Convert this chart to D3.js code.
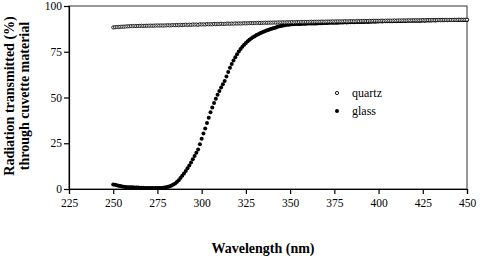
<!DOCTYPE html>
<html>
<head>
<meta charset="utf-8">
<script src="https://cdn.jsdelivr.net/npm/d3@7"></script>
<style>
  body { margin: 0; background: #fff; }
  text { font-family: "Liberation Serif", "Times New Roman", serif; }
</style>
</head>
<body>
<svg id="chart" width="481" height="259"></svg>
<script>
  /* data: one reading per nm, 250 to 450 nm */
  let wavelengths = d3.range(250, 451)

  let quartz = [
    88.3, 88.4, 88.5, 88.5, 88.6, 88.7, 88.7, 88.8, 88.9, 88.9,
    89.0, 89.0, 89.1, 89.0, 89.1, 89.1, 89.2, 89.1, 89.2, 89.2,
    89.2, 89.3, 89.2, 89.3, 89.3, 89.4, 89.3, 89.4, 89.3, 89.4,
    89.4, 89.5, 89.4, 89.5, 89.6, 89.5, 89.6, 89.5, 89.7, 89.6,
    89.7, 89.8, 89.6, 89.8, 89.7, 89.9, 89.8, 89.9, 89.7, 90.0,
    89.9, 90.0, 89.9, 90.1, 90.0, 90.1, 90.0, 90.2, 90.1, 90.2,
    90.1, 90.3, 90.2, 90.2, 90.3, 90.4, 90.3, 90.4, 90.3, 90.5,
    90.4, 90.5, 90.4, 90.5, 90.6, 90.5, 90.6, 90.6, 90.7, 90.6,
    90.7, 90.7, 90.8, 90.7, 90.8, 90.8, 90.9, 90.8, 90.9, 90.9,
    90.9, 91.0, 90.9, 91.0, 91.0, 91.0, 91.1, 91.0, 91.1, 91.1,
    91.1, 91.2, 91.1, 91.2, 91.2, 91.2, 91.3, 91.2, 91.3, 91.3,
    91.3, 91.3, 91.4, 91.3, 91.4, 91.4, 91.4, 91.4, 91.5, 91.4,
    91.5, 91.5, 91.5, 91.5, 91.6, 91.5, 91.6, 91.6, 91.6, 91.6,
    91.6, 91.7, 91.6, 91.7, 91.7, 91.7, 91.7, 91.7, 91.8, 91.7,
    91.8, 91.8, 91.8, 91.8, 91.8, 91.9, 91.8, 91.9, 91.9, 91.9,
    91.9, 91.9, 92.0, 91.9, 92.0, 92.0, 92.0, 92.0, 92.0, 92.1,
    92.0, 92.1, 92.1, 92.1, 92.1, 92.1, 92.1, 92.2, 92.1, 92.2,
    92.2, 92.2, 92.2, 92.2, 92.2, 92.3, 92.2, 92.3, 92.3, 92.3,
    92.3, 92.3, 92.3, 92.3, 92.4, 92.3, 92.4, 92.4, 92.4, 92.4,
    92.4, 92.4, 92.4, 92.5, 92.4, 92.5, 92.5, 92.5, 92.5, 92.5,
    92.5
  ]

  let glass = [
    2.5, 2.3, 2.0, 1.8, 1.6, 1.4, 1.2, 1.1, 1.0, 1.0,
    0.9, 0.9, 0.8, 0.8, 0.8, 0.7, 0.7, 0.7, 0.6, 0.6,
    0.6, 0.5, 0.5, 0.5, 0.5, 0.5, 0.6, 0.6, 0.7, 0.8,
    1.0, 1.2, 1.5, 1.9, 2.4, 3.0, 3.8, 4.8, 6.0, 7.3,
    8.5, 9.8, 11.3, 12.9, 14.5, 16.2, 18.0, 19.8, 21.6, 24.5,
    27.5, 30.3, 33.0, 36.0, 39.0, 42.0, 44.5, 47.0, 49.3, 51.5,
    53.5, 55.5, 57.3, 59.0, 61.5, 64.0, 66.3, 68.3, 70.2, 72.0,
    73.7, 75.2, 76.5, 77.7, 78.8, 79.8, 80.7, 81.5, 82.2, 82.9,
    83.5, 84.1, 84.6, 85.1, 85.5, 85.9, 86.3, 86.7, 87.0, 87.4,
    87.7, 88.0, 88.3, 88.6, 88.9, 89.1, 89.3, 89.5, 89.7, 89.8,
    89.9, 90.0, 90.0, 90.1, 90.1, 90.2, 90.2, 90.3, 90.3, 90.3,
    90.4, 90.4, 90.4, 90.5, 90.5, 90.5, 90.6, 90.6, 90.6, 90.7,
    90.7, 90.7, 90.8, 90.8, 90.8, 90.9, 90.9, 90.9, 91.0, 91.0,
    91.0, 91.1, 91.0, 91.1, 91.1, 91.2, 91.1, 91.2, 91.2, 91.3,
    91.2, 91.3, 91.3, 91.4, 91.3, 91.4, 91.4, 91.5, 91.4, 91.5,
    91.5, 91.6, 91.5, 91.6, 91.6, 91.7, 91.6, 91.7, 91.7, 91.8,
    91.7, 91.8, 91.8, 91.8, 91.9, 91.8, 91.9, 91.9, 91.9, 92.0,
    91.9, 92.0, 92.0, 92.0, 92.0, 92.1, 92.0, 92.1, 92.1, 92.1,
    92.1, 92.2, 92.1, 92.2, 92.2, 92.2, 92.2, 92.2, 92.3, 92.2,
    92.3, 92.3, 92.3, 92.3, 92.3, 92.4, 92.3, 92.4, 92.4, 92.4,
    92.4
  ]

  let xTicks = [225, 250, 275, 300, 325, 350, 375, 400, 425, 450]
  let yTicks = [0, 25, 50, 75, 100]

  let margins = {top: 6, right: 14, bottom: 70, left: 69}
  let width = 481 - margins.left - margins.right
  let height = 259 - margins.top - margins.bottom

  let svg = d3.select("#chart")
  let g = svg.append("g")
             .attr("transform", `translate(${margins.left},${margins.top})`)

  let x = d3.scaleLinear().domain([225, 450]).range([0, width])
  let y = d3.scaleLinear().domain([0, 100]).range([height, 0])

  // frame
  g.append("rect")
   .attr("width", width)
   .attr("height", height)
   .attr("fill", "none")
   .attr("stroke", "#333")
   .attr("stroke-width", 1)

  let xAxis = g.append("g")
               .attr("transform", `translate(0,${height})`)
               .call(d3.axisBottom(x).tickValues(xTicks).tickSize(5).tickPadding(5))
  let yAxis = g.append("g")
               .call(d3.axisLeft(y).tickValues(yTicks).tickSize(5).tickPadding(2))

  svg.selectAll(".tick text")
     .attr("font-family", "Liberation Serif")
     .attr("font-size", 11.5)
     .attr("fill", "#000")
  svg.selectAll(".domain, .tick line")
     .attr("stroke", "#000")
     .attr("stroke-width", 1.2)

  // series
  g.selectAll(".glass")
   .data(glass)
   .enter()
   .append("circle")
   .attr("class", "glass")
   .attr("cx", function(d, i){ return x(wavelengths[i]) })
   .attr("cy", function(d){ return y(d) })
   .attr("r", 2)
   .attr("fill", "#000")

  g.selectAll(".quartz")
   .data(quartz)
   .enter()
   .append("circle")
   .attr("class", "quartz")
   .attr("cx", function(d, i){ return x(wavelengths[i]) })
   .attr("cy", function(d){ return y(d) })
   .attr("r", 1.6)
   .attr("fill", "#fff")
   .attr("stroke", "#000")
   .attr("stroke-width", 0.8)

  // legend
  let legend = svg.append("g").attr("transform", "translate(337,93)")
  legend.append("circle").attr("r", 1.6).attr("fill", "#fff")
        .attr("stroke", "#000").attr("stroke-width", 0.9)
  legend.append("text").attr("x", 15).attr("y", 4).attr("font-size", 12).text("quartz")
  legend.append("circle").attr("cy", 18).attr("r", 2).attr("fill", "#000")
  legend.append("text").attr("x", 15).attr("y", 22).attr("font-size", 12).text("glass")

  // axis titles
  svg.append("text")
     .attr("x", 263).attr("y", 253)
     .attr("text-anchor", "middle")
     .attr("font-weight", "bold")
     .attr("font-size", 14)
     .text("Wavelength (nm)")

  let yTitle = svg.append("text")
                  .attr("transform", "translate(0,96) rotate(-90)")
                  .attr("text-anchor", "middle")
                  .attr("font-weight", "bold")
                  .attr("font-size", 14)
  yTitle.append("tspan").attr("x", 0).attr("y", 14).text("Radiation transmitted (%)")
  yTitle.append("tspan").attr("x", 0).attr("y", 29).text("through cuvette material")
</script>
</body>
</html>
